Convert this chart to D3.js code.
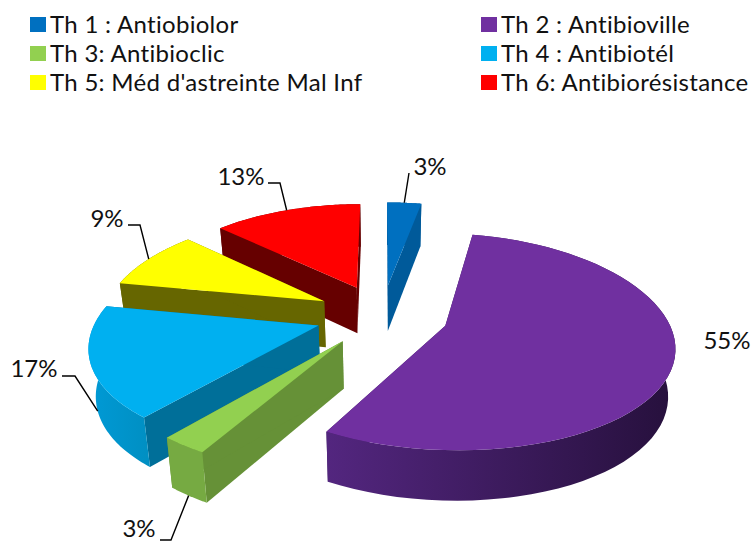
<!DOCTYPE html>
<html>
<head>
<meta charset="utf-8">
<script src="https://cdn.jsdelivr.net/npm/d3@7"></script>
<style>
html,body{margin:0;padding:0;background:#fff;overflow:hidden}
text{font-family:Lato,"Open Sans",sans-serif;fill:#111}
</style>
</head>
<body>
<svg id="c" width="751" height="542"></svg>
<script>
const categories = ["Th 1 : Antiobiolor","Th 2 : Antibioville","Th 3: Antibioclic","Th 4 : Antibiotél","Th 5: Méd d'astreinte Mal Inf","Th 6: Antibiorésistance"];
const values = [3,55.2,2.85,16.95,9,13];
const valueLabels = ["3%","55%","3%","17%","9%","13%"];
const colors = ["#0070c0","#7030a0","#92d050","#00b0f0","#ffff00","#ff0000"];
const sideColors = ["#005a9a","#3a1a5c","#669137","#006f99","#666600","#660000"];
const rimStart = ["#005a9a","#53267f","#76aa42","#009ad6","#666600","#660000"];
const rimEnd = ["#005a9a","#26103c","#76aa42","#008fc2","#666600","#660000"];
const drawOrder = [0,5,4,3,1,2];

// label layout: text anchor point and leader-line start / elbow
const labelPos = [[430,166],[727,340],[139,528.5],[34,368],[107,218],[241,176]];
const leaderStart = [[409,173],null,[160,540],[62,376],[128,225],[268,183]];
const leaderElbow = [null,null,[171,540],[75,376],[140,225],[280,183]];
const leaderOnWall = [false,false,true,true,false,false];

const W=751,H=542,cx=382,cy=315,kx=0.165,ky=0.145,explode=0.3;
const xPlane=d3.scaleLinear().domain([-1,1]).range([-221,221]);
const yPlane=d3.scaleLinear().domain([-1,1]).range([-103,103]);
const depth=46.5, depthK=0.07, lowShrink=0.975;

const svg=d3.select("#c");
const defs=svg.append("defs");
const line=d3.line().x(d=>d[0]).y(d=>d[1]);
const arcs=d3.pie().sort(null).value(d=>d).startAngle(0).endAngle(2*Math.PI)(values);

function project(U,V,low){
  const x=xPlane(U)/(1-kx*V), y=yPlane(V)/(1-ky*V);
  if(!low) return [cx+x,cy+y];
  return [cx+x*lowShrink,cy+y+depth/(1-depthK*V)];
}
function slicePt(arc,a,r,low){
  const m=(arc.startAngle+arc.endAngle)/2;
  const U=explode*Math.sin(m)+r*Math.sin(a);
  const V=-explode*Math.cos(m)-r*Math.cos(a);
  return project(U,V,low);
}
drawOrder.forEach(i=>{
  const a=arcs[i];
  const ang=d3.range(0,61).map(t=>a.startAngle+(a.endAngle-a.startAngle)*t/60);
  const top=ang.map(t=>slicePt(a,t,1,false));
  const low=ang.map(t=>slicePt(a,t,1,true));
  const apexT=slicePt(a,0,0,false), apexL=slicePt(a,0,0,true);
  const g=svg.append("g");
  const gid="rim"+i;
  const grad=defs.append("linearGradient").attr("id",gid).attr("x1",0).attr("x2",1).attr("y1",0).attr("y2",0);
  grad.append("stop").attr("offset",0).attr("stop-color",rimStart[i]);
  grad.append("stop").attr("offset",1).attr("stop-color",rimEnd[i]);
  // radial walls
  [[top[0],low[0]],[top[60],low[60]]].forEach(([t,l])=>{
    g.append("path").attr("d",line([apexT,t,l,apexL])+"Z").attr("fill",sideColors[i]);
  });
  // outer wall
  g.append("path").attr("d",line(top.concat(low.slice().reverse()))+"Z").attr("fill",`url(#${gid})`);
  // top face
  g.append("path").attr("d",line([apexT].concat(top))+"Z").attr("fill",colors[i]);
});

// leaders
const leaderG=svg.append("g");
arcs.forEach((a,i)=>{
  if(!leaderStart[i]) return;
  const m=(a.startAngle+a.endAngle)/2;
  const end=slicePt(a,m,1,leaderOnWall[i]);
  const pts=[leaderStart[i]];
  if(leaderElbow[i]) pts.push(leaderElbow[i]);
  pts.push(end);
  leaderG.append("path").attr("d",line(pts)).attr("fill","none").attr("stroke","#000").attr("stroke-width",1.4);
});
// labels
valueLabels.forEach((t,i)=>{
  svg.append("text").attr("x",labelPos[i][0]).attr("y",labelPos[i][1]).attr("dy","0.36em")
    .attr("text-anchor","middle").attr("font-size",24).text(t);
});
// legend
const colX=d3.scalePoint().domain([0,1]).range([30,481]);
const rowY=d3.scalePoint().domain([0,1,2]).range([17,75]);
categories.forEach((c,i)=>{
  const col=i%2,row=Math.floor(i/2);
  svg.append("rect").attr("x",colX(col)).attr("y",rowY(row)).attr("width",16).attr("height",15).attr("fill",colors[i]);
  svg.append("text").attr("x",colX(col)+20).attr("y",rowY(row)+7).attr("dy","0.36em")
    .attr("font-size",24).attr("letter-spacing",0.3).text(c);
});
</script>
</body>
</html>
